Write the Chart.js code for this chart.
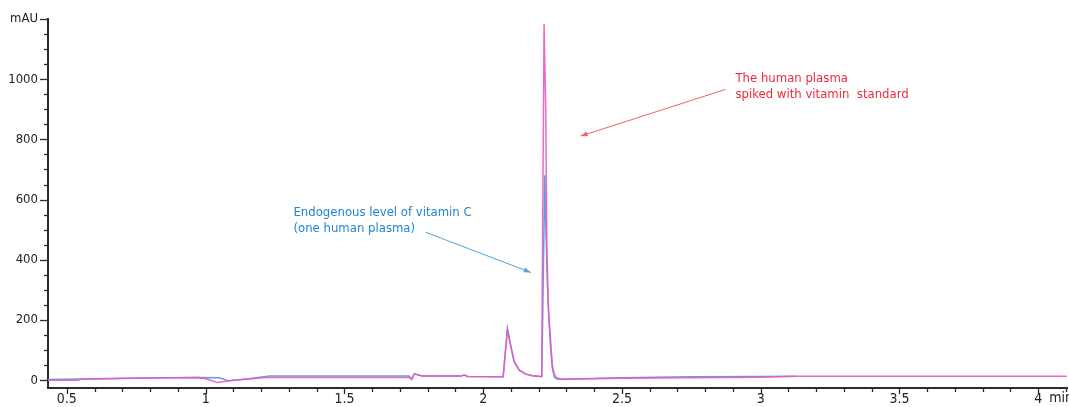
<!DOCTYPE html>
<html><head><meta charset="utf-8">
<script src="https://cdn.jsdelivr.net/npm/chart.js@4.4.1/dist/chart.umd.min.js"></script>
<style>html,body{margin:0;padding:0;background:#fff;overflow:hidden}#wrap{width:1069px;height:407px;position:relative}</style>
</head><body><div id="wrap"><canvas id="c"></canvas></div>
<script>
// ---- data ----
const blueTimes  = [0.432, 0.55, 0.75, 0.97, 1.05, 1.08, 1.15, 1.23, 1.50, 1.733, 1.742, 1.752, 1.78, 1.92, 1.932, 1.945, 2.072, 2.0874, 2.0996, 2.1115, 2.1295, 2.1536, 2.1773, 2.2076, 2.211, 2.2135, 2.2219, 2.2255, 2.2313, 2.238, 2.2435, 2.2493, 2.256, 2.265, 2.28, 2.5, 2.75, 3.0, 3.126];
const blueValues = [2, 4, 7, 9, 8, -2, 4, 14, 14, 14, 3, 21, 14, 14, 17, 12, 11, 172, 115, 63, 34, 20, 15, 12, 12, 150, 681, 520, 322, 190, 100, 40, 12, 4, 3, 8, 11, 12, 13];
const pinkTimes  = [0.432, 0.54, 0.55, 0.75, 0.97, 1.0, 1.043, 1.086, 1.15, 1.22, 1.50, 1.733, 1.742, 1.752, 1.78, 1.92, 1.932, 1.945, 2.072, 2.0874, 2.0996, 2.1115, 2.1295, 2.1536, 2.1773, 2.2076, 2.211, 2.2125, 2.2194, 2.2255, 2.2291, 2.2349, 2.2435, 2.2493, 2.2554, 2.262, 2.28, 2.5, 2.75, 3.0, 3.13, 3.5, 4.104];
const pinkValues = [0, 0, 3, 6, 9, 5, -8, -2, 4, 9, 9, 9, 3, 21, 14, 14, 17, 12, 11, 166, 111, 61, 33, 20, 15, 12, 12, 250, 1183, 897, 455, 233, 123, 50, 23, 10, 3, 6, 8, 10, 13, 13, 13];

const yMajorTicks  = [0, 200, 400, 600, 800, 1000, 1200];
const yMajorLabels = ['0', '200', '400', '600', '800', '1000', 'mAU'];
const yMinorStep = 50;
const xMajorTicks  = [0.5, 1, 1.5, 2, 2.5, 3, 3.5, 4];
const xMajorLabels = ['0.5', '1', '1.5', '2', '2.5', '3', '3.5', '4'];
const xMinorStep = 0.1;
const xUnitLabel = 'min';

const noteBlueLines = ['Endogenous level of vitamin C', '(one human plasma)'];
const noteRedLines  = ['The human plasma', 'spiked with vitamin  standard'];

// ---- layout / styles ----
const FONT = "'DejaVu Sans Condensed', 'DejaVu Sans', sans-serif";
const X_MIN = 0.432, X_MAX = 4.104, Y_MIN = -26, Y_MAX = 1200;
const notes = [
  {lines: noteBlueLines, at: [1.3165, 556], color: '#2585cf', from: [1.794, 491], to: [2.1716, 358], arrow: '#4ba3e0'},
  {lines: noteRedLines,  at: [2.909, 1002], color: '#ee2a3e', from: [2.873, 966], to: [2.351, 811], arrow: '#f25f6b'}
];

function range(a, b, s) { const out = []; const n = Math.round((b - a) / s); for (let i = 0; i <= n; i++) out.push(+(a + i * s).toFixed(4)); return out; }
function isMajor(list, v) { return list.some(m => Math.abs(m - v) < 1e-6); }
function labelFor(list, labels, v) { const i = list.findIndex(m => Math.abs(m - v) < 1e-6); return i >= 0 ? labels[i] : ''; }

const tickPlugin = {
  id: 'ticks',
  afterDraw(chart) {
    const ctx = chart.ctx, ca = chart.chartArea, xs = chart.scales.x, ys = chart.scales.y;
    ctx.save();
    ctx.strokeStyle = '#2b2b2b'; ctx.lineWidth = 1.3;
    ys.ticks.forEach(t => {
      const py = Math.round(ys.getPixelForValue(t.value)) + 0.5;
      const len = isMajor(yMajorTicks, t.value) ? 8 : 4;
      ctx.beginPath(); ctx.moveTo(ca.left - len, py); ctx.lineTo(ca.left, py); ctx.stroke();
    });
    xs.ticks.forEach(t => {
      const px = Math.round(xs.getPixelForValue(t.value)) + 0.5;
      const len = isMajor(xMajorTicks, t.value) ? 6 : 4;
      ctx.beginPath(); ctx.moveTo(px, ca.bottom); ctx.lineTo(px, ca.bottom + len); ctx.stroke();
    });
    // unit label
    ctx.fillStyle = '#222'; ctx.font = '14px ' + FONT; ctx.textBaseline = 'middle'; ctx.textAlign = 'left';
    ctx.fillText(xUnitLabel, xs.getPixelForValue(4) + 11, ca.bottom + 10);
    // annotations
    notes.forEach(n => {
      ctx.fillStyle = n.color; ctx.font = '13px ' + FONT;
      const tx = xs.getPixelForValue(n.at[0]), ty = ys.getPixelForValue(n.at[1]);
      n.lines.forEach((l, i) => ctx.fillText(l, tx, ty + i * 16));
      const x1 = xs.getPixelForValue(n.from[0]), y1 = ys.getPixelForValue(n.from[1]);
      const x2 = xs.getPixelForValue(n.to[0]),   y2 = ys.getPixelForValue(n.to[1]);
      ctx.strokeStyle = n.arrow; ctx.fillStyle = n.arrow; ctx.lineWidth = 1;
      ctx.beginPath(); ctx.moveTo(x1, y1); ctx.lineTo(x2, y2); ctx.stroke();
      const a = Math.atan2(y2 - y1, x2 - x1), L = 7, W = 2.5;
      ctx.beginPath();
      ctx.moveTo(x2, y2);
      ctx.lineTo(x2 - L * Math.cos(a) + W * Math.sin(a), y2 - L * Math.sin(a) - W * Math.cos(a));
      ctx.lineTo(x2 - L * Math.cos(a) - W * Math.sin(a), y2 - L * Math.sin(a) + W * Math.cos(a));
      ctx.closePath(); ctx.fill();
    });
    ctx.restore();
  }
};

const toPts = (ts, vs) => ts.map((t, i) => ({x: t, y: vs[i]}));

new Chart(document.getElementById('c'), {
  type: 'line',
  data: {
    datasets: [
      {label: 'spiked', data: toPts(pinkTimes, pinkValues), borderColor: 'rgba(236,88,192,0.9)', borderWidth: 1.5, pointRadius: 0, tension: 0, fill: false},
      {label: 'endogenous', data: toPts(blueTimes, blueValues), borderColor: 'rgb(92,160,225)', borderWidth: 1.5, pointRadius: 0, tension: 0, fill: false}
    ]
  },
  options: {
    responsive: true, maintainAspectRatio: false, animation: false,
    layout: {padding: {top: 19, right: 0, left: 0, bottom: 0}},
    plugins: {legend: {display: false}, tooltip: {enabled: false}},
    scales: {
      x: {
        type: 'linear', min: X_MIN, max: X_MAX,
        afterBuildTicks: s => { s.ticks = range(0.5, 4.1, xMinorStep).map(v => ({value: v})); },
        afterFit: s => { s.height = 19; },
        grid: {display: true, drawOnChartArea: false, drawTicks: false},
        border: {display: true, color: '#2b2b2b', width: 2},
        ticks: {autoSkip: false, maxRotation: 0, padding: 3, color: '#222', font: {family: FONT, size: 14},
                callback: v => labelFor(xMajorTicks, xMajorLabels, v)}
      },
      y: {
        type: 'linear', min: Y_MIN, max: Y_MAX,
        afterBuildTicks: s => { s.ticks = range(0, 1200, yMinorStep).map(v => ({value: v})); },
        afterFit: s => { s.width = 48; },
        grid: {display: true, drawOnChartArea: false, drawTicks: false},
        border: {display: true, color: '#2b2b2b', width: 2},
        ticks: {autoSkip: false, padding: 10, color: '#222', font: {family: FONT, size: 13},
                callback: v => labelFor(yMajorTicks, yMajorLabels, v)}
      }
    }
  },
  plugins: [tickPlugin]
});
</script>
</body></html>
